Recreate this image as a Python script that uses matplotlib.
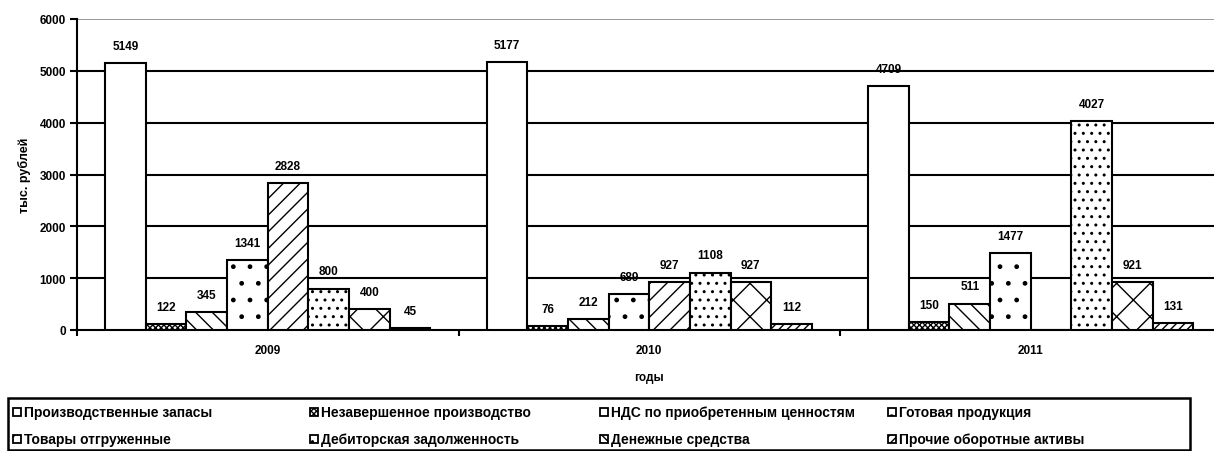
import matplotlib
matplotlib.use("Agg")
import matplotlib.pyplot as plt
from matplotlib.patches import Rectangle
import numpy as np

plt.rcParams['font.family'] = ['Liberation Sans', 'DejaVu Sans']
plt.rcParams['hatch.linewidth'] = 1.0

years = ['2009', '2010', '2011']
series_names = ['Производственные запасы', 'Незавершенное производство',
                'НДС по приобретенным ценностям', 'Готовая продукция',
                'Товары отгруженные', 'Дебиторская задолженность',
                'Денежные средства', 'Прочие оборотные активы']
zapasy = [5149, 5177, 4709]
nezaversh = [122, 76, 150]
nds = [345, 212, 511]
gotovaya = [1341, 689, 1477]
tovary = [2828, 927, 0]
debitor = [800, 1108, 4027]
dengi = [400, 927, 921]
prochie = [45, 112, 131]
values = [zapasy, nezaversh, nds, gotovaya, tovary, debitor, dengi, prochie]
hatches = ['', 'xxxxxx', '\\\\', '.', '//', '..', 'x', '////']

W, H = 1214, 452
fig = plt.figure(figsize=(W / 100, H / 100), dpi=100)
ax = fig.add_axes([77 / W, 1 - 331 / H, 1144.5 / W, 311 / H])

x = np.arange(len(years))
bw = 0.852 / len(values)
for i, (vals, h) in enumerate(zip(values, hatches)):
    pos = x - 0.426 + bw * (i + 0.5)
    bars = ax.bar(pos, vals, bw, color='white', edgecolor='black',
                  linewidth=1.5, hatch=h, zorder=3)
    ax.bar_label(bars, labels=[str(v) if v else '' for v in vals],
                 padding=8, fontsize=8.5, fontweight='bold')

ax.set_xlim(-0.5, 2.5)
ax.set_ylim(0, 6000)
ax.set_yticks(range(0, 6001, 1000))
ax.set_xticks(x)
ax.set_xticklabels(years, fontsize=8.5, fontweight='bold')
ax.set_xticks([-0.5, 0.5, 1.5, 2.5], minor=True)
ax.tick_params(axis='x', which='major', length=0, pad=10)
ax.tick_params(axis='x', which='minor', length=4, width=1.5, direction='out')
ax.tick_params(axis='y', length=5, width=1.5, direction='out', pad=3)
for lab in ax.get_yticklabels():
    lab.set_fontsize(8.5)
    lab.set_fontweight('bold')
for yv in range(1000, 6000, 1000):
    ax.axhline(yv, color='black', lw=1.5, zorder=1)
ax.axhline(6000, color='#888888', lw=1.2, zorder=1)
for s in ['top', 'right']:
    ax.spines[s].set_visible(False)
ax.spines['left'].set_linewidth(1.5)
ax.spines['bottom'].set_linewidth(1.5)
ax.set_ylabel('тыс. рублей', fontsize=9, fontweight='bold', labelpad=6)

fig.text(649 / W, 1 - 378 / H, 'годы', ha='center', va='center',
         fontsize=8.5, fontweight='bold')

# legend box drawn by hand to keep the column positions of the original
fig.patches.append(Rectangle((8 / W, 1 - 451 / H), 1182 / W, 52 / H,
                             transform=fig.transFigure, fill=False,
                             edgecolor='black', lw=1.8))
col_x = [13, 310, 600, 888]
row_y = [413, 440]
for k, (name, h) in enumerate(zip(series_names, hatches)):
    cx = col_x[k % 4]
    cy = row_y[k // 4]
    fig.patches.append(Rectangle((cx / W, 1 - (cy + 4) / H), 8 / W, 8 / H,
                                 transform=fig.transFigure, facecolor='white',
                                 edgecolor='black', lw=1.3, hatch=h))
    fig.text((cx + 11) / W, 1 - cy / H, name, ha='left', va='center',
             fontsize=10, fontweight='bold')

fig.savefig('out.png', dpi=100)
